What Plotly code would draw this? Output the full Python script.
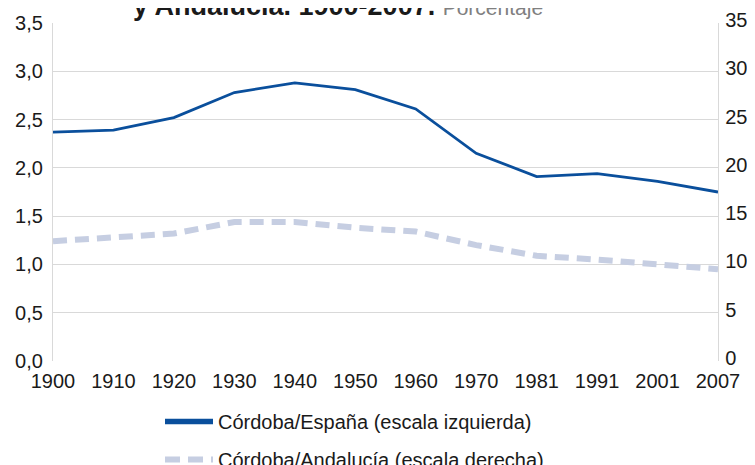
import plotly.graph_objects as go

years = ["1900", "1910", "1920", "1930", "1940", "1950", "1960", "1970", "1981", "1991", "2001", "2007"]
cordoba_espana = [2.37, 2.39, 2.52, 2.78, 2.88, 2.81, 2.61, 2.15, 1.91, 1.94, 1.86, 1.75]
cordoba_andalucia = [12.4, 12.8, 13.2, 14.4, 14.4, 13.8, 13.4, 12.0, 10.9, 10.5, 10.0, 9.5]

left_ticks = [0, 0.5, 1, 1.5, 2, 2.5, 3, 3.5]
left_labels = ["0,0", "0,5", "1,0", "1,5", "2,0", "2,5", "3,0", "3,5"]
right_ticks = [0, 5, 10, 15, 20, 25, 30, 35]

name1 = "Córdoba/España (escala izquierda)"
name2 = "Córdoba/Andalucía (escala derecha)"

FONT = "Liberation Sans, Arial, sans-serif"
BLUE = "#0a4f9c"
LIGHT = "#c6cee2"
GRID = "#d9d9d9"

# the page body adds an 8px margin, so the figure is 8px smaller on each axis
W, H = 747, 457

fig = go.Figure()
fig.add_trace(go.Scatter(
    x=years, y=cordoba_espana, mode="lines", name=name1, showlegend=False,
    line=dict(color=BLUE, width=2.8), yaxis="y"))
fig.add_trace(go.Scatter(
    x=years, y=cordoba_andalucia, mode="lines", name=name2, showlegend=False,
    line=dict(color=LIGHT, width=6, dash="14px,8px"), yaxis="y2"))
# legend entries (thicker samples, as in the reference)
fig.add_trace(go.Scatter(
    x=[None], y=[None], mode="lines", name=name1, legendgroup="a",
    line=dict(color=BLUE, width=5.5)))
fig.add_trace(go.Scatter(
    x=[None], y=[None], mode="lines", name=name2, legendgroup="b",
    line=dict(color=LIGHT, width=6, dash="15px,8px"), yaxis="y2"))

fig.update_layout(
    width=W, height=H,
    margin=dict(l=45, r=37, t=15, b=104, autoexpand=False),
    paper_bgcolor="white", plot_bgcolor="white",
    font=dict(family=FONT, size=20, color="#1a1a1a"),
    showlegend=True,
    legend=dict(orientation="v", xref="container", yref="container",
                x=152 / W, xanchor="left", y=1 - 394 / H, yanchor="top",
                font=dict(family=FONT, size=20, color="#1a1a1a"),
                itemwidth=48, traceorder="grouped", tracegroupgap=9,
                bgcolor="rgba(0,0,0,0)", borderwidth=0),
    xaxis=dict(type="category", range=[0, len(years) - 1], showgrid=False,
               showline=False, ticks="", zeroline=False, automargin=False,
               ticklabelstandoff=6),
    yaxis=dict(range=[0, 3.5], tickvals=left_ticks, ticktext=left_labels,
               showgrid=True, gridcolor=GRID, gridwidth=1.3, zeroline=False,
               showline=True, linecolor=GRID, linewidth=1.3, ticks="",
               ticklabelstandoff=5, automargin=False),
    yaxis2=dict(range=[0, 35], tickvals=right_ticks, overlaying="y", side="right",
                showgrid=False, zeroline=False, showline=True, linecolor=GRID,
                linewidth=1.3, ticks="", ticklabelstandoff=2, ticklabelshift=-3,
                automargin=False),
)

fig.add_annotation(
    xref="paper", yref="paper", x=(330 - 45) / 665, y=1, yshift=17,
    xanchor="center", yanchor="middle",
    text="<b>y Andalucía. 1900-2007.</b> <span style='color:#808080;font-size:21px'>Porcentaje</span>",
    showarrow=False, font=dict(family=FONT, size=27, color="#1a1a1a"))

fig.write_html("out.html")
